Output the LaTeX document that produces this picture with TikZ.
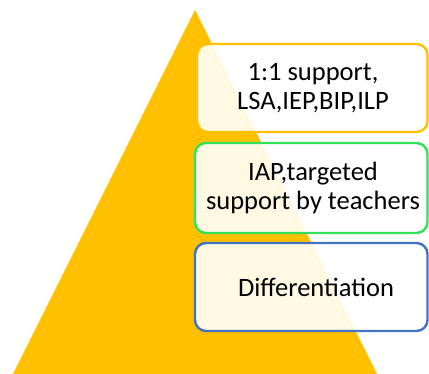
\documentclass[tikz,border=0pt]{standalone}
\usepackage{fontspec}
\setmainfont{Carlito}
\definecolor{pyellow}{HTML}{FFC000}
\definecolor{pgreen}{HTML}{33E05A}
\definecolor{pblue}{HTML}{4472C4}
\tikzset{
  tier/.style={line width=2.4pt, rounded corners=11pt, fill=white, fill opacity=0.89},
  tiertext/.style={align=center, font=\fontsize{26.5}{28.5}\selectfont, text=black, inner sep=0pt},
}
\begin{document}
\begin{tikzpicture}[x=1pt,y=-1pt]
\useasboundingbox (0,0) rectangle (429,374);
\fill[pyellow] (195,10) coordinate (apex) -- (377,374) coordinate (br) -- (13,374) coordinate (bl) -- cycle;
\begin{scope}
\clip (0,0) rectangle (429,374);
\draw[tier, draw=pyellow] (197,44) rectangle (427.5,132);
\draw[tier, draw=pgreen] (195,143) rectangle (427.5,233);
\draw[tier, draw=pblue] (195,243) rectangle (427.5,331);
\end{scope}
\node[tiertext] (t1) at (313,88) {1:1 support,\\LSA,IEP,BIP,ILP};
\node[tiertext] (t2) at (313,188) {IAP,targeted\\support by teachers};
\node[tiertext] (t3) at (316,287) {Differentiation};
\end{tikzpicture}
\end{document}
